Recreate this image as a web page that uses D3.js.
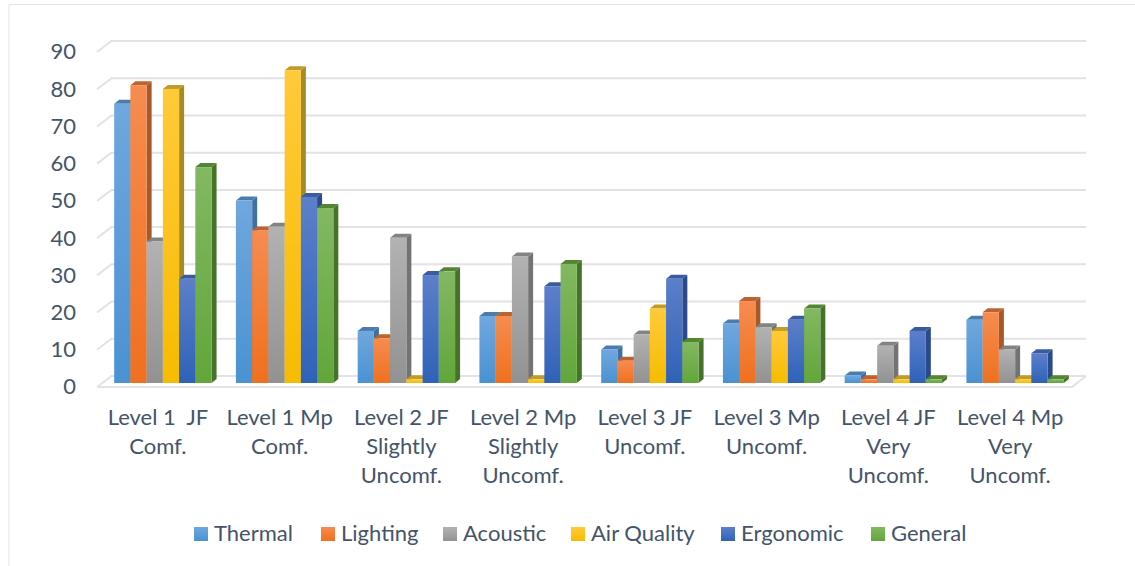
<!DOCTYPE html>
<html>
<head>
<meta charset="utf-8">
<script src="https://cdn.jsdelivr.net/npm/d3@7"></script>
<style>
  html, body { margin: 0; padding: 0; background: #fff; }
  svg { display: block; }
  text { font-family: Lato, "Open Sans", sans-serif; fill: #44546a; }
</style>
</head>
<body>
<div id="chart"></div>
<script>
"use strict";

const categories = ["L1JF", "L1Mp", "L2JF", "L2Mp", "L3JF", "L3Mp", "L4JF", "L4Mp"];
const categoryLines = [
    ["Level 1  JF", "Comf."],
    ["Level 1 Mp", "Comf."],
    ["Level 2 JF", "Slightly", "Uncomf."],
    ["Level 2 Mp", "Slightly", "Uncomf."],
    ["Level 3 JF", "Uncomf."],
    ["Level 3 Mp", "Uncomf."],
    ["Level 4 JF", "Very", "Uncomf."],
    ["Level 4 Mp", "Very", "Uncomf."]
];
const seriesNames = ["Thermal", "Lighting", "Acoustic", "Air Quality", "Ergonomic", "General"];
const thermal = [75, 49, 14, 18, 9, 16, 2, 17];
const lighting = [80, 41, 12, 18, 6, 22, 1, 19];
const acoustic = [38, 42, 39, 34, 13, 15, 10, 9];
const airQuality = [79, 84, 1, 1, 20, 14, 1, 1];
const ergonomic = [28, 50, 29, 26, 28, 17, 14, 8];
const general = [58, 47, 30, 32, 11, 20, 1, 1];
const seriesValues = [thermal, lighting, acoustic, airQuality, ergonomic, general];
const yTicks = [0, 10, 20, 30, 40, 50, 60, 70, 80, 90];

// top / bottom of the front face gradient, then side and cap shades
const faceTop = ["#70a7de", "#f68c50", "#b2b2b2", "#ffca3a", "#5c7fca", "#82b862"];
const faceBottom = ["#4a92d2", "#f0701e", "#929292", "#f6bc00", "#2f62b8", "#62a63a"];
const sideColor = ["#3f70a0", "#a8592a", "#737373", "#a68a24", "#2a4a8c", "#47722a"];
const capColor = ["#4a7cb0", "#bd6330", "#838383", "#c29c28", "#3a5ba0", "#548533"];

const width = 1135, height = 566;
const depthX = 14.5, depthY = 11;   // wall/floor skew
const barDepthX = 5, barDepthY = 4; // depth of a single bar
const barShiftY = 7;                // bars stand in the middle of the floor

const svg = d3.select("#chart").append("svg")
    .attr("width", width)
    .attr("height", height);

// pale frame of the chart area
svg.append("path")
    .attr("d", d3.line()([[9, height], [9, 4.5], [width, 4.5]]))
    .attr("fill", "none")
    .attr("stroke", "#dde4ee")
    .attr("stroke-width", 1);

// value scale is measured along the back wall
const y = d3.scaleLinear().domain([0, 90]).range([376, 41]);
const x0 = d3.scaleBand().domain(categories).range([102, 1076]).paddingInner(0.2).paddingOuter(0.1);
const x1 = d3.scaleBand().domain(seriesNames).range([0, x0.bandwidth()]);

const defs = svg.append("defs");
seriesNames.forEach((name, i) => {
    const grad = defs.append("linearGradient")
        .attr("id", "face" + i)
        .attr("x1", "0%").attr("y1", "0%")
        .attr("x2", "0%").attr("y2", "100%");
    grad.append("stop").attr("offset", "0%").attr("stop-color", faceTop[i]);
    grad.append("stop").attr("offset", "100%").attr("stop-color", faceBottom[i]);
});

// gridlines on the back wall with their skewed stub on the left wall
const grid = svg.append("g")
    .attr("fill", "none")
    .attr("stroke", "#e2e2e8")
    .attr("stroke-width", 2);
grid.selectAll("path")
    .data(yTicks)
    .enter()
    .append("path")
    .attr("d", d => d3.line()([
        [97, y(d) + depthY],
        [97 + depthX, y(d)],
        [1086, y(d)]
    ]));

// floor front edge
grid.append("path")
    .attr("d", d3.line()([[97, y(0) + depthY], [1072, y(0) + depthY], [1086, y(0)]]));

// value labels through a left axis, shifted onto the front plane
const yAxis = d3.axisLeft(y).tickValues(yTicks).tickSize(0).tickPadding(0);
const axisG = svg.append("g")
    .attr("transform", "translate(76,10)")
    .call(yAxis);
axisG.select(".domain").remove();
axisG.selectAll("text")
    .attr("font-family", null)
    .style("font-size", "22px")
    .attr("dy", "0.36em");

// one 3D bar per value; later series sit over the side of earlier ones
const groups = svg.selectAll("g.cat")
    .data(categories)
    .enter()
    .append("g")
    .attr("class", "cat")
    .attr("transform", d => "translate(" + x0(d) + ",0)");

groups.each(function(cat, c) {
    const g = d3.select(this);
    seriesNames.forEach((name, s) => {
        const v = seriesValues[s][c];
        const bx = x1(name), bw = x1.bandwidth();
        const top = y(v) + barShiftY, base = y(0) + barShiftY;
        const bar = g.append("g");
        bar.append("path")
            .attr("d", d3.line()([
                [bx + bw, top], [bx + bw + barDepthX, top - barDepthY],
                [bx + bw + barDepthX, base - barDepthY], [bx + bw, base]
            ]) + "Z")
            .attr("fill", sideColor[s]);
        bar.append("path")
            .attr("d", d3.line()([
                [bx, top], [bx + barDepthX, top - barDepthY],
                [bx + bw + barDepthX, top - barDepthY], [bx + bw, top]
            ]) + "Z")
            .attr("fill", capColor[s]);
        bar.append("rect")
            .attr("x", bx)
            .attr("y", top)
            .attr("width", bw)
            .attr("height", base - top)
            .attr("fill", "url(#face" + s + ")");
    });
});

// category labels, wrapped by hand
const labels = svg.selectAll("text.cat-label")
    .data(categories)
    .enter()
    .append("text")
    .attr("class", "cat-label")
    .attr("text-anchor", "middle")
    .style("font-size", "22px")
    .attr("transform", d => "translate(" + (x0(d) + x0.bandwidth() / 2 - 5) + ",0)");
labels.selectAll("tspan")
    .data((d, i) => categoryLines[i])
    .enter()
    .append("tspan")
    .attr("x", 0)
    .attr("y", (d, i) => 425 + i * 29)
    .style("white-space", "pre")
    .text(d => d);

// legend
const legendX = [194, 321, 443, 571, 721, 871];
const legend = svg.selectAll("g.legend")
    .data(seriesNames)
    .enter()
    .append("g")
    .attr("class", "legend")
    .attr("transform", (d, i) => "translate(" + legendX[i] + ",527)");
legend.append("rect")
    .attr("width", 14)
    .attr("height", 14)
    .attr("fill", (d, i) => "url(#face" + i + ")");
legend.append("text")
    .attr("x", 20)
    .attr("y", 14)
    .style("font-size", "22px")
    .text(d => d);
</script>
</body>
</html>
